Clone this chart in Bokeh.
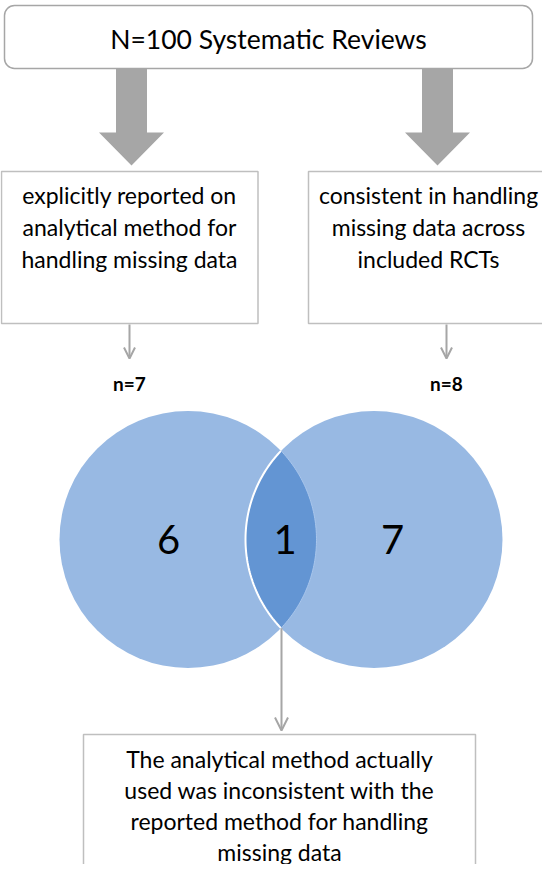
import numpy as np
from bokeh.plotting import figure
from bokeh.models import Range1d, Arrow, OpenHead
from bokeh.core.properties import value
from bokeh.embed import file_html
from bokeh.resources import INLINE

# ---- data ----
total_label = "N=100 Systematic Reviews"
group_texts = [
    ["explicitly reported on", "analytical method for", "handling missing data"],
    ["consistent in handling", "missing data across", "included RCTs"],
]
group_counts = [7, 8]
venn_counts = [6, 1, 7]  # reported only, both, consistent only
bottom_text = ["The analytical method actually", "used was inconsistent with the",
               "reported method for handling", "missing data"]

FONT = "Lato"
GRAY = "#a6a6a6"
BORDER = "#bfbfbf"

p = figure(width=542, height=864, output_backend="svg", toolbar_location=None,
           x_range=Range1d(8, 550), y_range=Range1d(872, 8), min_border=0,
           tools="")
p.axis.visible = False
p.grid.visible = False
p.outline_line_color = None
p.background_fill_color = "white"

# top rounded box
p.quad(left=[12], right=[540], top=[13], bottom=[76], fill_color="white",
       line_color=GRAY, line_width=1.5, border_radius=10)
p.text(x=[276], y=[46], text=[total_label], text_font=value(FONT),
       text_font_size="26.5px", text_align="center", text_baseline="middle",
       text_color="black")

# big block arrows
def block_arrow(cx, y0, y1, shaft_hw=15.5, head_hw=32.5, head_len=33):
    xs = [cx - shaft_hw, cx + shaft_hw, cx + shaft_hw, cx + head_hw, cx,
          cx - head_hw, cx - shaft_hw]
    ys = [y0, y0, y1 - head_len, y1 - head_len, y1, y1 - head_len, y1 - head_len]
    p.patch(xs, ys, fill_color=GRAY, line_color=None)

col_x = [139, 445]
for cx in col_x:
    block_arrow(cx, 76, 173)

# group boxes
box_l = [9, 316]
box_r = [265.5, 572]
p.quad(left=box_l, right=box_r, top=[179, 179], bottom=[331, 331],
       fill_color="white", line_color=BORDER, line_width=1.5)
text_cx = [137, 436]
line_y = [202, 234, 266]
for cx, lines in zip(text_cx, group_texts):
    p.text(x=[cx] * len(lines), y=line_y[:len(lines)], text=lines,
           text_font=value(FONT), text_font_size="23px", text_align="center",
           text_baseline="middle", text_color="black")

# small arrows + counts
small_x = [137, 454]
for sx in small_x:
    p.add_layout(Arrow(end=OpenHead(size=11, line_color=GRAY, line_width=2),
                       x_start=sx, y_start=332, x_end=sx, y_end=366,
                       line_color=GRAY, line_width=2))
p.text(x=small_x, y=[391, 391], text=[f"n={c}" for c in group_counts],
       text_font=value(FONT), text_font_size="19px", text_font_style="bold",
       text_align="center", text_baseline="middle", text_color="black")

# Venn diagram
r = 128.5
c1 = (195.5, 547.0)
c2 = (381.5, 547.0)
CIRC = "#98b9e3"
LENS = "#6395d3"
p.circle(x=[c1[0], c2[0]], y=[c1[1], c2[1]], radius=r, fill_color=CIRC,
         line_color=None)
d = (c2[0] - c1[0]) / 2
alpha = np.arccos(d / r)
t1 = np.linspace(-alpha, alpha, 80)
t2 = np.linspace(np.pi + alpha, np.pi - alpha, 80)
lx = np.concatenate([c1[0] + r * np.cos(t1), c2[0] + r * np.cos(t2)])
ly = np.concatenate([c1[1] + r * np.sin(t1), c2[1] + r * np.sin(t2)])
p.patch(lx, ly, fill_color=LENS, line_color=None)
p.line(c2[0] + r * np.cos(t2), c2[1] + r * np.sin(t2), line_color="white",
       line_width=2)
p.line(c1[0] + r * np.cos(t1), c1[1] + r * np.sin(t1), line_color="#a9c6ec",
       line_width=1)

mid_x = (c1[0] + c2[0]) / 2
p.text(x=[c1[0] - 19.5, mid_x + 4, c2[0] + 18.5], y=[c1[1]] * 3,
       text=[str(v) for v in venn_counts], text_font=value(FONT),
       text_font_size="40px", text_align="center", text_baseline="middle",
       text_color="black")

# connector arrow to bottom box
lens_bottom = c1[1] + r * np.sin(alpha)
p.add_layout(Arrow(end=OpenHead(size=13, line_color=GRAY, line_width=2),
                   x_start=289, y_start=lens_bottom, x_end=289, y_end=738,
                   line_color=GRAY, line_width=2))

# bottom box
p.quad(left=[91], right=[483], top=[742], bottom=[900], fill_color="white",
       line_color=BORDER, line_width=1.5)
p.text(x=[287] * len(bottom_text), y=[766, 797, 828, 859], text=bottom_text,
       text_font=value(FONT), text_font_size="23px", text_align="center",
       text_baseline="middle", text_color="black")

open("out.html", "w").write(file_html(p, INLINE))
